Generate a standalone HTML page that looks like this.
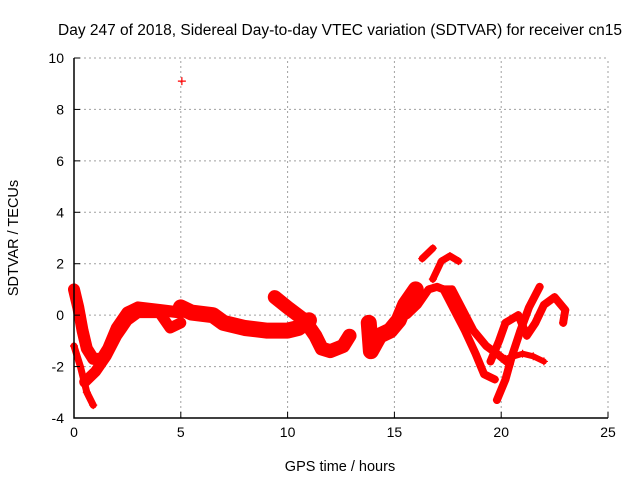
<!DOCTYPE html>
<html><head><meta charset="utf-8"><style>
body{margin:0;background:#fff}
svg{display:block;font-family:"Liberation Sans",sans-serif}
</style></head><body>
<svg id="chart" width="640" height="480" viewBox="0 0 640 480" xmlns="http://www.w3.org/2000/svg">
<text x="340" y="35" text-anchor="middle" font-size="15.5">Day 247 of 2018, Sidereal Day-to-day VTEC variation (SDTVAR) for receiver cn15</text>
<text x="340" y="471" text-anchor="middle" font-size="14.5">GPS time / hours</text>
<text x="0" y="0" transform="translate(18,238) rotate(-90)" text-anchor="middle" font-size="14.5">SDTVAR / TECUs</text>
<g id="grid"></g>
<g id="marks"></g>
<g id="axes"></g>
</svg>
<script>
const xTicks=[0,5,10,15,20,25];
const yTicks=[-4,-2,0,2,4,6,8,10];
const trackA=[[0,1],[0.2,0.3],[0.4,-0.6],[0.6,-1.3],[0.9,-1.7],[1.3,-1.7],[1.6,-1.3],[2.0,-0.5],[2.5,0.1],[3,0.3],[4,0.2],[5,0.1]];
const trackB=[[0,-1.2],[0.3,-2],[0.6,-3],[0.9,-3.5]];
const trackC=[[0.5,-2.6],[1,-2.2],[1.5,-1.6],[2,-0.8],[2.5,-0.2],[3,0.1],[4,0.1],[4.5,-0.5],[5,-0.3]];
const trackD=[[5,0.3],[5.5,0.1],[6.5,0],[7,-0.3],[8,-0.5],[9,-0.6],[10,-0.6],[10.5,-0.5],[11,-0.2]];
const trackE=[[9.4,0.7],[10,0.3],[10.8,-0.2],[11.3,-0.8],[11.6,-1.3],[12,-1.4],[12.6,-1.2],[12.9,-0.8]];
const trackF=[[13.8,-0.3],[13.9,-1.4],[14.3,-0.8],[14.8,-0.6],[15.2,-0.2],[15.5,0.4],[16,1]];
const trackG=[[15.6,0],[16.1,0.4],[16.6,1],[17,1.1],[17.3,1],[17.8,0.2],[18.3,-0.6],[18.8,-1.5],[19.2,-2.3],[19.7,-2.5]];
const trackH=[[17.3,1],[17.7,1],[18.2,0.2],[18.7,-0.6],[19.3,-1.2],[19.8,-1.5],[20.4,-1.9]];
const trackI=[[19.8,-3.3],[20.2,-2.5],[20.5,-1.6],[20.9,-0.6],[21.3,0.3],[21.8,1.1]];
const trackJ=[[19.5,-1.8],[19.9,-1],[20.2,-0.3],[20.8,0],[21.2,-0.8],[21.6,-0.3],[22,0.4],[22.5,0.7],[23,0.2],[22.9,-0.3]];
const trackK=[[20.2,-1.7],[21,-1.5],[21.5,-1.6],[22,-1.8]];
const trackL=[[16.3,2.2],[16.8,2.6]];
const trackM=[[16.8,1.4],[17.2,2.1],[17.6,2.3],[18,2.1]];
const outliers=[[5.05,9.1]];
const tracks=[trackA,trackB,trackC,trackD,trackE,trackF,trackG,trackH,trackI,trackJ,trackK,trackL,trackM,outliers];
const widths=[12,7,11,16,14,16,8,8,8,8,6,7,7,0];

const X0=74,X1=608,Y0=418,Y1=58;
const xs=t=>X0+(t-0)/(25-0)*(X1-X0);
const ys=v=>Y0-(v+4)/14*(Y0-Y1);
const NS='http://www.w3.org/2000/svg';
function mk(tag,attrs,parent){const e=document.createElementNS(NS,tag);for(const k in attrs)e.setAttribute(k,attrs[k]);parent.appendChild(e);return e;}
const grid=document.getElementById('grid'),axes=document.getElementById('axes'),marks=document.getElementById('marks');
xTicks.forEach(t=>{
  if(t>0){const l=mk('line',{x1:xs(t),x2:xs(t),y1:Y0,y2:Y1,stroke:'#a0a0a0','stroke-dasharray':'2,3'},grid);
  
  }
  const tk=mk('line',{x1:xs(t),x2:xs(t),y1:Y0,y2:Y0-6,stroke:'#000'},axes);
  
  
  const tx=mk('text',{x:xs(t),y:Y0+19,'text-anchor':'middle','font-size':'14'},axes);tx.textContent=t;
  
  
});
yTicks.forEach(v=>{
  if(v>-4){const l=mk('line',{x1:X0,x2:X1,y1:ys(v),y2:ys(v),stroke:'#a0a0a0','stroke-dasharray':'2,3'},grid);
  
  }
  const tk=mk('line',{x1:X0,x2:X0+6,y1:ys(v),y2:ys(v),stroke:'#000'},axes);
  
  
  const tx=mk('text',{x:X0-10,y:ys(v)+5,'text-anchor':'end','font-size':'14'},axes);tx.textContent=v;
  
  
});
const ax=mk('path',{d:`M${X0},${Y1}V${Y0}H${X1}`,fill:'none',stroke:'#000','stroke-width':1.5},axes);


tracks.forEach((tr,i)=>{
  if(widths[i]>0&&tr.length>1){
    const p=mk('polyline',{points:tr.map(d=>xs(d[0])+','+ys(d[1])).join(' '),fill:'none',stroke:'#f00','stroke-width':widths[i],'stroke-linejoin':'round','stroke-linecap':'round'},marks);
    
    
  }
  tr.forEach(d=>{
    const x=xs(d[0]),y=ys(d[1]);
    const m=mk('path',{d:`M${x-4},${y}h8M${x},${y-4}v8`,stroke:'#f00','stroke-width':1.2},marks);
    
    
  });
});
</script>
</body></html>
